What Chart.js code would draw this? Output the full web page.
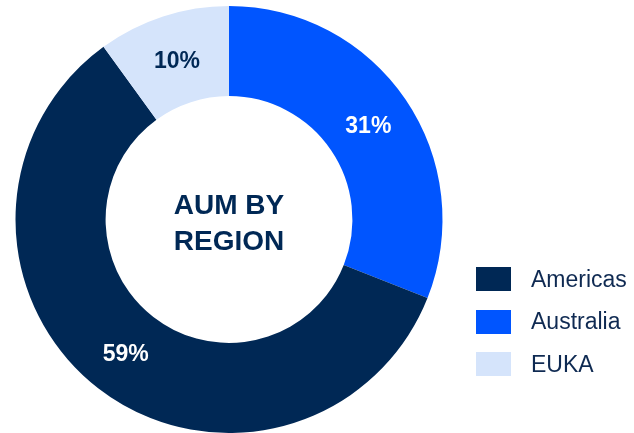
<!DOCTYPE html>
<html>
<head>
<meta charset="utf-8">
<script src="https://cdn.jsdelivr.net/npm/chart.js@4.4.0/dist/chart.umd.min.js"></script>
<style>
  html, body { margin: 0; padding: 0; background: #fff; }
  #wrap { position: relative; width: 634px; height: 433px; }
  #legend { position: absolute; left: 476px; top: 267px; font-family: "Liberation Sans", Arial, sans-serif; }
  .row { display: flex; align-items: center; height: 24px; margin-bottom: 18.5px; }
  .swatch { width: 35px; height: 24px; margin-right: 20px; }
  .row span { font-size: 23px; color: #0f2a52; }
</style>
</head>
<body>
<div id="wrap">
  <canvas id="aumChart" width="634" height="433"></canvas>
  <div id="legend"></div>
</div>
<script>
// slices go clockwise from 12 o'clock
const regions = ['Australia', 'Americas', 'EUKA'];
const shares = [31, 59, 10];
const colors = ['#0055ff', '#002855', '#d5e4fb'];
const labelColors = ['#ffffff', '#ffffff', '#002855'];
const legendOrder = ['Americas', 'Australia', 'EUKA'];
const centerLines = ['AUM BY', 'REGION'];

const FONT = '"Liberation Sans", Arial, sans-serif';

// percentage text in the middle of each ring segment
const sliceLabels = {
    id: 'sliceLabels',
    afterDatasetsDraw(chart) {
        const ctx = chart.ctx;
        const meta = chart.getDatasetMeta(0);
        ctx.save();
        ctx.font = 'bold 23px ' + FONT;
        ctx.textAlign = 'center';
        ctx.textBaseline = 'middle';
        meta.data.forEach((arc, i) => {
            const p = arc.tooltipPosition();
            ctx.fillStyle = labelColors[i];
            ctx.fillText(shares[i] + '%', p.x, p.y + 2);
        });
        ctx.restore();
    }
};

// title in the hole of the doughnut
const centerText = {
    id: 'centerText',
    afterDraw(chart) {
        const ctx = chart.ctx;
        const arc = chart.getDatasetMeta(0).data[0];
        ctx.save();
        ctx.font = 'bold 28px ' + FONT;
        ctx.fillStyle = '#002855';
        ctx.textAlign = 'center';
        ctx.textBaseline = 'middle';
        ctx.fillText(centerLines[0], arc.x, arc.y - 13);
        ctx.fillText(centerLines[1], arc.x, arc.y + 23);
        ctx.restore();
    }
};

new Chart(document.getElementById('aumChart'), {
    type: 'doughnut',
    data: {
        labels: regions,
        datasets: [{
            data: shares,
            backgroundColor: colors,
            borderWidth: 0
        }]
    },
    options: {
        responsive: false,
        animation: false,
        cutout: '57.8%',
        layout: { padding: { top: 6, bottom: 0, left: 15, right: 191 } },
        plugins: {
            legend: { display: false },
            tooltip: { enabled: false }
        }
    },
    plugins: [sliceLabels, centerText]
});

const legendEl = document.getElementById('legend');
legendOrder.forEach(name => {
    const i = regions.indexOf(name);
    const row = document.createElement('div');
    row.className = 'row';
    row.innerHTML = '<div class="swatch" style="background:' + colors[i] + '"></div><span>' + name + '</span>';
    legendEl.appendChild(row);
});
</script>
</body>
</html>
